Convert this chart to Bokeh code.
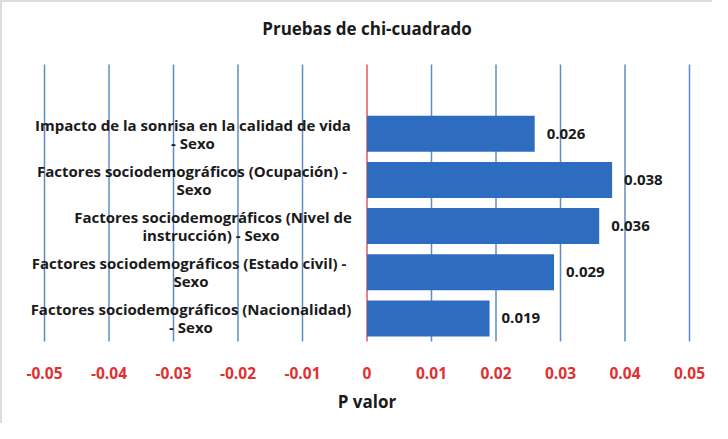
from bokeh.plotting import figure
from bokeh.models import ColumnDataSource, Range1d, LabelSet, Label
from bokeh.core.properties import value
from bokeh.embed import file_html
from bokeh.resources import INLINE

# ---- data ----
title_text = "Pruebas de chi-cuadrado"
axis_title = "P valor"
categories = [
    "Impacto de la sonrisa en la calidad de vida\n- Sexo",
    "Factores sociodemográficos (Ocupación)  -\nSexo",
    "Factores sociodemográficos (Nivel de\ninstrucción)  - Sexo",
    "Factores sociodemográficos (Estado civil)  -\nSexo",
    "Factores sociodemográficos (Nacionalidad)\n- Sexo",
]
p_values = [0.026, 0.038, 0.036, 0.029, 0.019]
value_labels = ["0.026", "0.038", "0.036", "0.029", "0.019"]
x_ticks = [-0.05, -0.04, -0.03, -0.02, -0.01, 0, 0.01, 0.02, 0.03, 0.04, 0.05]
tick_labels = ["-0.05", "-0.04", "-0.03", "-0.02", "-0.01", "0", "0.01", "0.02", "0.03", "0.04", "0.05"]

# styling: horizontal offset (px) of each category label's centre from the axis
label_offsets = [-174, -173, -154, -176, -176]

n = len(categories)
ypos = [n - i for i in range(n)]  # first category at top
zeros = [0] * n
line1 = [c.split("\n")[0] for c in categories]
line2 = [c.split("\n")[1] for c in categories]

src = ColumnDataSource(dict(y=ypos, p=p_values, lab=value_labels, l1=line1, l2=line2,
                            zero=zeros, off=label_offsets))

# ---- layout (pixels) ----
FW, FH = 710, 421                 # whole canvas is the drawing frame
PLOT_L, PLOT_T, PLOT_H = 42, 62, 277   # plot area inside the canvas
x_lo, x_hi = x_ticks[0], x_ticks[-1]
px_per_x = 645 / (x_hi - x_lo)
y_bot_val, y_top_val = 0.5, n + 1.5      # band range (one empty slot on top)
px_per_y = PLOT_H / (y_top_val - y_bot_val)
xr = Range1d(x_lo - PLOT_L / px_per_x, x_lo - PLOT_L / px_per_x + FW / px_per_x)
yr = Range1d(y_bot_val - (FH - PLOT_T - PLOT_H) / px_per_y, y_top_val + PLOT_T / px_per_y)

FONT = "Open Sans"
BLUE = "#2e6cbf"
GRID = "#5f8cc4"
RED = "#e03030"
DARK = "#1a1a1a"

p = figure(frame_width=FW, frame_height=FH, output_backend="svg", toolbar_location=None,
           x_range=xr, y_range=yr, x_axis_location=None, y_axis_location=None,
           min_border=0)
p.styles = {"border-left": "2px solid #dcdcdc", "border-top": "2px solid #dcdcdc"}
p.outline_line_color = None
p.grid.visible = False
p.background_fill_color = "white"
p.border_fill_color = "white"

# vertical gridlines at the ticks
grid_ticks = [t for t in x_ticks if t != 0]
p.segment(x0=grid_ticks, x1=grid_ticks, y0=[y_bot_val] * len(grid_ticks),
          y1=[y_top_val] * len(grid_ticks), line_color=GRID, line_width=1.5)
# vertical axis at zero
p.segment(x0=[0], x1=[0], y0=[y_bot_val], y1=[y_top_val], line_color="#e05a5a", line_width=1.5)

p.hbar(y="y", right="p", left=0, height=0.78, source=src, fill_color=BLUE, line_color=None)

p.add_layout(LabelSet(x="p", y="y", text="lab", source=src, x_offset=12,
                      text_align="left", text_baseline="middle",
                      text_font=value(FONT), text_font_size="15px", text_font_style="bold",
                      text_color=DARK))

for col, dy in (("l1", 9), ("l2", -9)):
    p.add_layout(LabelSet(x="zero", y="y", text=col, source=src, x_offset="off", y_offset=dy,
                          text_align="center", text_baseline="middle",
                          text_font=value(FONT), text_font_size="15px", text_font_style="bold",
                          text_color=DARK))

# x tick labels
tick_src = ColumnDataSource(dict(x=x_ticks, t=tick_labels, y=[y_bot_val] * len(x_ticks)))
p.add_layout(LabelSet(x="x", y="y", text="t", source=tick_src, y_offset=-31,
                      text_align="center", text_baseline="middle",
                      text_font=value(FONT), text_font_size="15.5px", text_font_style="bold",
                      text_color=RED))

x_mid = (x_lo + x_hi) / 2
# axis title
p.add_layout(Label(x=x_mid, y=y_bot_val, y_offset=-60, text=axis_title,
                   text_align="center", text_baseline="middle",
                   text_font=FONT, text_font_size="17px", text_font_style="bold",
                   text_color=DARK))
# chart title
p.add_layout(Label(x=x_mid, y=y_top_val, y_offset=36, text=title_text,
                   text_align="center", text_baseline="middle",
                   text_font=FONT, text_font_size="17px", text_font_style="bold",
                   text_color=DARK))

open("out.html", "w").write(file_html(p, INLINE))
